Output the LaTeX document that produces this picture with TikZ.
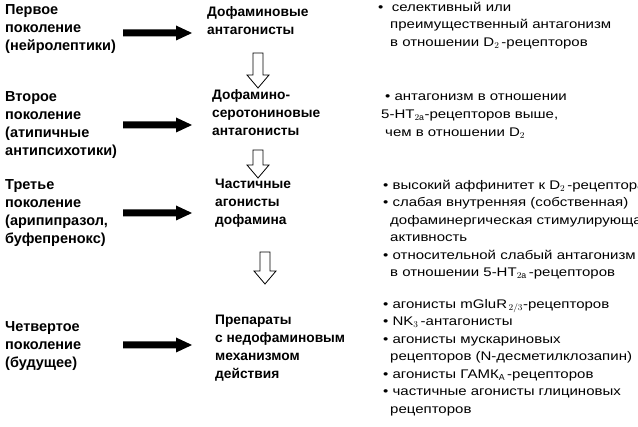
\documentclass[tikz,border=0pt]{standalone}
\usepackage{fontspec}
\setmainfont{Liberation Sans}
\newfontfamily\widefont[FakeStretch=1.2]{Liberation Sans}
\begin{document}
\begin{tikzpicture}[x=1pt,y=-1pt,
 lt/.style={anchor=north west,align=left,inner sep=0,font=\bfseries\fontsize{14.5}{18}\selectfont},
 mt/.style={anchor=north west,align=left,inner sep=0,font=\bfseries\fontsize{13.75}{18}\selectfont},
 rt/.style={anchor=north west,align=left,inner sep=0,font=\widefont\fontsize{12.5}{17.5}\selectfont},
 blk/.style={fill=black},
 hol/.style={draw=black,line width=0.8pt,fill=white}]
\useasboundingbox (0,0) rectangle (638,427);
\node[lt] (g1) at (5,4) {Первое\\поколение\\(нейролептики)};
\node[lt] (g2) at (5,91) {Второе\\поколение\\(атипичные\\антипсихотики)};
\node[lt] (g3) at (5,179) {Третье\\поколение\\(арипипразол,\\буфепренокс)};
\node[lt] (g4) at (5,321) {Четвертое\\поколение\\(будущее)};
\node[mt] (m1) at (207,6) {Дофаминовые\\антагонисты};
\node[mt] (m2) at (212,89) {Дофамино-\\серотониновые\\антагонисты};
\node[mt] (m3) at (215,179) {Частичные\\агонисты\\дофамина};
\node[mt] (m4) at (215,315) {Препараты\\с недофаминовым\\механизмом\\действия};
% black arrows
\foreach \y in {33,125,213,345}{
 \fill[blk] (123,\y-3.5) -- (176,\y-3.5) -- (176,\y-7.5) -- (192,\y) -- (176,\y+7.5) -- (176,\y+3.5) -- (123,\y+3.5) -- cycle;}
% hollow arrows
\foreach \x/\a/\b in {258/53/88,258/150/178,265/252/284}{
 \draw[hol] (\x-5,\a) -- (\x+5,\a) -- (\x+5,\b-13) -- (\x+11,\b-13) -- (\x,\b) -- (\x-11,\b-13) -- (\x-5,\b-13) -- cycle;}
\node[rt] (r1) at (378,2) {•\ \ селективный или\\\hspace{12pt}преимущественный антагонизм\\\hspace{12pt}в отношении D$_2$\,-рецепторов};
\node[rt] (r2) at (381,94) {\hspace{4pt}• антагонизм в отношении\\5-HT$_{2\mathrm{a}}$-рецепторов выше,\\[1pt]\hspace{4pt}чем в отношении D$_2$};
\node[rt] (r3) at (383,180) {• высокий аффинитет к D$_2$\,-рецепторам\\• слабая внутренняя (собственная)\\\hspace{7pt}дофаминергическая стимулирующая\\\hspace{7pt}активность\\• относительной слабый антагонизм\\\hspace{7pt}в отношении 5-HT$_{2\mathrm{a}}$\,-рецепторов};
\node[rt] (r4) at (383,299) {• агонисты mGluR$_{\,2/3}$-рецепторов\\• NK$_3$\,-антагонисты\\• агонисты мускариновых\\\hspace{7pt}рецепторов (N-десметилклозапин)\\• агонисты ГАМК$_\mathrm{A}$\,-рецепторов\\• частичные агонисты глициновых\\\hspace{7pt}рецепторов};
\end{tikzpicture}
\end{document}
